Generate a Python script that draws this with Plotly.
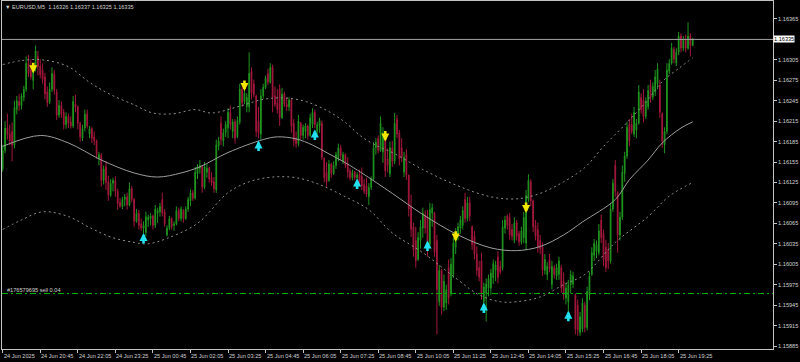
import plotly.graph_objects as go

# ---------------- data (EURUSD M5) ----------------
OPEN = [
1.16145,1.16172,1.16205,1.16196,1.16200,1.16180,1.16232,1.16244,1.16238,1.16250,
1.16262,1.16300,1.16290,1.16275,1.16292,1.16310,1.16296,1.16290,1.16280,1.16258,
1.16243,1.16262,1.16284,1.16258,1.16224,1.16238,1.16228,1.16210,1.16222,1.16214,
1.16208,1.16240,1.16236,1.16212,1.16190,1.16205,1.16226,1.16196,1.16204,1.16192,
1.16186,1.16160,1.16165,1.16128,1.16148,1.16126,1.16106,1.16124,1.16128,1.16112,
1.16096,1.16090,1.16100,1.16104,1.16092,1.16116,1.16100,1.16068,1.16080,1.16064,
1.16058,1.16052,1.16070,1.16072,1.16076,1.16062,1.16080,1.16082,1.16100,1.16082,
1.16048,1.16058,1.16072,1.16062,1.16064,1.16084,1.16072,1.16084,1.16072,1.16086,
1.16098,1.16110,1.16102,1.16138,1.16146,1.16148,1.16118,1.16140,1.16146,1.16132,
1.16126,1.16114,1.16178,1.16212,1.16186,1.16198,1.16205,1.16228,1.16200,1.16214,
1.16192,1.16214,1.16262,1.16244,1.16236,1.16236,1.16288,1.16270,1.16252,1.16215,
1.16196,1.16252,1.16264,1.16285,1.16272,1.16294,1.16252,1.16242,1.16262,1.16220,
1.16255,1.16240,1.16236,1.16246,1.16212,1.16190,1.16182,1.16212,1.16194,1.16200,
1.16208,1.16194,1.16210,1.16228,1.16200,1.16208,1.16212,1.16160,1.16140,1.16128,
1.16152,1.16138,1.16150,1.16160,1.16176,1.16156,1.16166,1.16152,1.16142,1.16132,
1.16140,1.16132,1.16136,1.16134,1.16122,1.16120,1.16104,1.16118,1.16130,1.16176,
1.16190,1.16172,1.16170,1.16190,1.16160,1.16138,1.16176,1.16156,1.16218,1.16198,
1.16176,1.16140,1.16166,1.16136,1.16090,1.16060,1.16040,1.16012,1.16040,1.16058,
1.16078,1.16075,1.16034,1.16080,1.16080,1.16040,1.15950,1.15996,1.15942,1.15948,
1.16000,1.15962,1.15990,1.16030,1.16050,1.16058,1.16062,1.16100,1.16072,1.16095,
1.16060,1.16046,1.16020,1.16000,1.16010,1.15950,1.15962,1.15970,1.15970,1.15985,
1.15996,1.16016,1.16002,1.16000,1.16058,1.16076,1.16074,1.16056,1.16040,1.16066,
1.16050,1.16038,1.16044,1.16036,1.16100,1.16126,1.16098,1.16062,1.16056,1.16040,
1.16030,1.15996,1.15990,1.16012,1.15975,1.16000,1.15988,1.15990,1.16000,1.15980,
1.15955,1.15950,1.15975,1.15976,1.15960,1.15945,1.15905,1.15910,1.15945,1.15912,
1.15960,1.15990,1.16018,1.16024,1.16022,1.16070,1.16050,1.16030,1.16026,1.16010,
1.16086,1.16150,1.16110,1.16048,1.16074,1.16138,1.16164,1.16210,1.16210,1.16196,
1.16202,1.16212,1.16250,1.16246,1.16222,1.16236,1.16268,1.16250,1.16258,1.16270,
1.16268,1.16226,1.16180,1.16200,1.16288,1.16300,1.16320,1.16300,1.16316,1.16340,
1.16322,1.16334,1.16322,1.16340,1.16326]

HIGH = [
1.16180,1.16215,1.16226,1.16210,1.16213,1.16245,1.16252,1.16255,1.16256,1.16267,
1.16310,1.16312,1.16306,1.16300,1.16326,1.16318,1.16306,1.16300,1.16286,1.16266,
1.16272,1.16294,1.16290,1.16262,1.16246,1.16244,1.16233,1.16228,1.16226,1.16222,
1.16252,1.16254,1.16238,1.16214,1.16210,1.16232,1.16232,1.16208,1.16206,1.16200,
1.16188,1.16170,1.16168,1.16150,1.16156,1.16135,1.16130,1.16132,1.16134,1.16116,
1.16102,1.16104,1.16108,1.16110,1.16125,1.16120,1.16102,1.16086,1.16085,1.16072,
1.16068,1.16082,1.16078,1.16080,1.16078,1.16092,1.16088,1.16095,1.16110,1.16086,
1.16062,1.16076,1.16074,1.16068,1.16090,1.16088,1.16090,1.16086,1.16090,1.16104,
1.16115,1.16114,1.16148,1.16152,1.16158,1.16150,1.16155,1.16152,1.16148,1.16140,
1.16133,1.16188,1.16192,1.16222,1.16204,1.16215,1.16234,1.16238,1.16218,1.16218,
1.16222,1.16270,1.16266,1.16262,1.16256,1.16316,1.16294,1.16276,1.16254,1.16236,
1.16262,1.16270,1.16282,1.16292,1.16300,1.16298,1.16266,1.16262,1.16269,1.16264,
1.16258,1.16250,1.16250,1.16248,1.16218,1.16200,1.16224,1.16214,1.16210,1.16212,
1.16210,1.16226,1.16234,1.16232,1.16214,1.16220,1.16216,1.16162,1.16155,1.16158,
1.16154,1.16156,1.16170,1.16182,1.16180,1.16170,1.16168,1.16162,1.16146,1.16144,
1.16142,1.16140,1.16144,1.16147,1.16130,1.16132,1.16124,1.16134,1.16184,1.16190,
1.16194,1.16222,1.16206,1.16196,1.16175,1.16185,1.16186,1.16227,1.16224,1.16202,
1.16190,1.16170,1.16174,1.16136,1.16107,1.16066,1.16060,1.16052,1.16070,1.16088,
1.16084,1.16085,1.16095,1.16094,1.16082,1.16048,1.16004,1.15998,1.15990,1.15975,
1.16012,1.16014,1.16044,1.16058,1.16066,1.16076,1.16090,1.16110,1.16104,1.16104,
1.16062,1.16054,1.16031,1.16010,1.16022,1.15978,1.15984,1.15990,1.15998,1.16012,
1.16010,1.16024,1.16010,1.16070,1.16076,1.16078,1.16080,1.16064,1.16074,1.16070,
1.16054,1.16060,1.16082,1.16114,1.16137,1.16130,1.16100,1.16070,1.16066,1.16048,
1.16037,1.16020,1.16008,1.16020,1.16010,1.16004,1.16006,1.16016,1.16004,1.15993,
1.15978,1.15982,1.15996,1.15994,1.15962,1.15953,1.15935,1.15955,1.15950,1.15972,
1.15994,1.16030,1.16042,1.16040,1.16064,1.16078,1.16056,1.16041,1.16036,1.16094,
1.16130,1.16158,1.16112,1.16082,1.16150,1.16170,1.16214,1.16218,1.16226,1.16236,
1.16218,1.16268,1.16256,1.16262,1.16250,1.16268,1.16276,1.16272,1.16290,1.16300,
1.16276,1.16228,1.16206,1.16300,1.16306,1.16330,1.16324,1.16322,1.16346,1.16344,
1.16340,1.16342,1.16360,1.16344,1.16337]

LOW = [
1.16141,1.16168,1.16188,1.16180,1.16156,1.16175,1.16225,1.16230,1.16232,1.16244,
1.16258,1.16280,1.16276,1.16262,1.16288,1.16282,1.16278,1.16270,1.16247,1.16236,
1.16240,1.16258,1.16254,1.16217,1.16220,1.16220,1.16203,1.16204,1.16205,1.16204,
1.16205,1.16228,1.16203,1.16185,1.16186,1.16200,1.16204,1.16190,1.16183,1.16180,
1.16160,1.16150,1.16119,1.16122,1.16114,1.16098,1.16104,1.16112,1.16104,1.16085,
1.16088,1.16086,1.16090,1.16085,1.16090,1.16096,1.16060,1.16066,1.16056,1.16054,
1.16050,1.16046,1.16060,1.16062,1.16056,1.16058,1.16066,1.16075,1.16075,1.16060,
1.16046,1.16055,1.16056,1.16054,1.16062,1.16068,1.16068,1.16066,1.16070,1.16082,
1.16090,1.16098,1.16100,1.16130,1.16138,1.16110,1.16115,1.16132,1.16125,1.16120,
1.16110,1.16110,1.16172,1.16180,1.16178,1.16192,1.16190,1.16203,1.16190,1.16182,
1.16190,1.16210,1.16236,1.16240,1.16228,1.16228,1.16247,1.16250,1.16192,1.16190,
1.16188,1.16248,1.16262,1.16268,1.16270,1.16228,1.16236,1.16226,1.16208,1.16218,
1.16236,1.16230,1.16230,1.16198,1.16178,1.16176,1.16178,1.16188,1.16188,1.16190,
1.16188,1.16192,1.16205,1.16205,1.16194,1.16198,1.16158,1.16125,1.16119,1.16126,
1.16132,1.16136,1.16145,1.16156,1.16158,1.16152,1.16146,1.16132,1.16128,1.16128,
1.16128,1.16127,1.16120,1.16114,1.16108,1.16104,1.16092,1.16114,1.16128,1.16166,
1.16168,1.16170,1.16154,1.16133,1.16140,1.16133,1.16148,1.16152,1.16190,1.16150,
1.16155,1.16133,1.16129,1.16075,1.16045,1.16016,1.16000,1.16010,1.16028,1.16044,
1.16050,1.16016,1.16028,1.16060,1.16016,1.15902,1.15944,1.15931,1.15936,1.15938,
1.15946,1.15958,1.15985,1.16020,1.16040,1.16050,1.16056,1.16066,1.16068,1.16068,
1.16026,1.16012,1.15988,1.15980,1.15953,1.15946,1.15921,1.15958,1.15960,1.15976,
1.15980,1.15977,1.15990,1.15996,1.16050,1.16056,1.16041,1.16040,1.16036,1.16040,
1.16032,1.16034,1.16036,1.16026,1.16096,1.16090,1.16052,1.16040,1.16022,1.16020,
1.15988,1.15990,1.15982,1.15993,1.15968,1.15984,1.15982,1.15982,1.15963,1.15953,
1.15946,1.15934,1.15962,1.15970,1.15902,1.15900,1.15900,1.15905,1.15905,1.15908,
1.15952,1.15988,1.16010,1.16014,1.16018,1.16036,1.16002,1.15994,1.15998,1.16006,
1.16082,1.16104,1.16022,1.16040,1.16070,1.16126,1.16160,1.16178,1.16196,1.16192,
1.16190,1.16210,1.16226,1.16213,1.16218,1.16232,1.16242,1.16246,1.16252,1.16262,
1.16220,1.16176,1.16168,1.16196,1.16284,1.16298,1.16300,1.16296,1.16312,1.16316,
1.16318,1.16316,1.16320,1.16310,1.16325]

CLOSE = [
1.16172,1.16205,1.16195,1.16186,1.16180,1.16235,1.16245,1.16238,1.16252,1.16262,
1.16300,1.16285,1.16280,1.16295,1.16318,1.16295,1.16283,1.16276,1.16255,1.16242,
1.16262,1.16285,1.16260,1.16224,1.16238,1.16226,1.16210,1.16222,1.16212,1.16208,
1.16244,1.16236,1.16212,1.16192,1.16204,1.16225,1.16208,1.16204,1.16190,1.16186,
1.16166,1.16166,1.16128,1.16145,1.16125,1.16106,1.16124,1.16128,1.16112,1.16094,
1.16090,1.16100,1.16104,1.16092,1.16116,1.16100,1.16068,1.16080,1.16062,1.16058,
1.16062,1.16075,1.16074,1.16076,1.16062,1.16086,1.16084,1.16090,1.16080,1.16064,
1.16058,1.16072,1.16060,1.16064,1.16084,1.16072,1.16086,1.16072,1.16086,1.16100,
1.16110,1.16102,1.16140,1.16148,1.16150,1.16118,1.16148,1.16146,1.16130,1.16124,
1.16116,1.16180,1.16186,1.16188,1.16198,1.16210,1.16228,1.16210,1.16214,1.16190,
1.16216,1.16262,1.16242,1.16256,1.16250,1.16285,1.16256,1.16254,1.16200,1.16198,
1.16252,1.16265,1.16278,1.16272,1.16294,1.16250,1.16240,1.16232,1.16220,1.16255,
1.16240,1.16236,1.16246,1.16208,1.16186,1.16182,1.16215,1.16194,1.16206,1.16208,
1.16194,1.16220,1.16228,1.16210,1.16210,1.16216,1.16162,1.16132,1.16126,1.16152,
1.16138,1.16150,1.16166,1.16176,1.16164,1.16166,1.16150,1.16140,1.16132,1.16140,
1.16132,1.16136,1.16126,1.16120,1.16112,1.16108,1.16118,1.16130,1.16176,1.16184,
1.16172,1.16212,1.16198,1.16142,1.16150,1.16176,1.16156,1.16212,1.16196,1.16160,
1.16162,1.16162,1.16136,1.16086,1.16056,1.16026,1.16010,1.16044,1.16060,1.16080,
1.16058,1.16030,1.16085,1.16088,1.16022,1.15968,1.15996,1.15942,1.15980,1.15968,
1.15955,1.16005,1.16036,1.16052,1.16060,1.16070,1.16084,1.16072,1.16095,1.16076,
1.16034,1.16020,1.15996,1.15986,1.15962,1.15972,1.15976,1.15984,1.15992,1.16006,
1.16004,1.15986,1.15994,1.16060,1.16070,1.16062,1.16048,1.16046,1.16066,1.16046,
1.16038,1.16054,1.16074,1.16106,1.16128,1.16098,1.16060,1.16046,1.16030,1.16028,
1.15996,1.16012,1.16002,1.15998,1.16002,1.15990,1.16000,1.16010,1.15970,1.15960,
1.15970,1.15975,1.15990,1.15988,1.15910,1.15908,1.15928,1.15948,1.15912,1.15965,
1.15988,1.16022,1.16036,1.16034,1.16054,1.16044,1.16012,1.16000,1.16010,1.16086,
1.16124,1.16112,1.16048,1.16074,1.16140,1.16164,1.16206,1.16186,1.16200,1.16228,
1.16212,1.16258,1.16232,1.16222,1.16244,1.16260,1.16250,1.16266,1.16280,1.16292,
1.16228,1.16186,1.16200,1.16290,1.16300,1.16322,1.16306,1.16316,1.16340,1.16322,
1.16334,1.16322,1.16340,1.16326,1.16335]

N_BARS = min(len(OPEN), len(HIGH), len(LOW), len(CLOSE))
BARS = list(range(N_BARS))

TIME_LABEL_BARS = [0, 16, 32, 48, 64, 80, 96, 112, 128, 144, 160, 176, 192, 208, 224, 240, 256, 272, 288]
TIME_LABELS = ["24 Jun 2025", "24 Jun 20:45", "24 Jun 22:05", "24 Jun 23:25", "25 Jun 00:45",
               "25 Jun 02:05", "25 Jun 03:25", "25 Jun 04:45", "25 Jun 06:05", "25 Jun 07:25",
               "25 Jun 08:45", "25 Jun 10:05", "25 Jun 11:25", "25 Jun 12:45", "25 Jun 14:05",
               "25 Jun 15:25", "25 Jun 16:45", "25 Jun 18:05", "25 Jun 19:25"]

PRICE_TICKS = [1.15885, 1.15915, 1.15945, 1.15975, 1.16005, 1.16035, 1.16065, 1.16095, 1.16125,
               1.16155, 1.16185, 1.16215, 1.16245, 1.16275, 1.16305, 1.16365]
PRICE_TICK_TEXT = ["1.15885", "1.15915", "1.15945", "1.15975", "1.16005", "1.16035", "1.16065",
                   "1.16095", "1.16125", "1.16155", "1.16185", "1.16215", "1.16245", "1.16275",
                   "1.16305", "1.16365"]

# channel indicator (middle, upper, lower), sampled points
MID_BARS = [0, 16, 28, 42, 56, 66, 76, 84, 96, 111, 117, 125, 132, 139, 146, 153, 166, 179, 194,
            208, 219, 229, 239, 247, 261, 267, 275, 281, 289, 294]
MID_VALS = [1.16178, 1.16194, 1.16183, 1.16158, 1.16139, 1.16133, 1.16139, 1.16148, 1.16169,
            1.16188, 1.16192, 1.16189, 1.16180, 1.16167, 1.16154, 1.16139, 1.16109, 1.16078,
            1.16048, 1.16029, 1.16025, 1.16031, 1.16048, 1.16067, 1.16100, 1.16129, 1.16158,
            1.16183, 1.16205, 1.16214]
UP_BARS = [0, 8, 17, 28, 37, 46, 56, 64, 73, 82, 89, 100, 111, 120, 129, 139, 146, 153, 160,
           166, 179, 194, 208, 219, 229, 239, 248, 256, 266, 275, 281, 289, 294]
UP_VALS = [1.16298, 1.16304, 1.16305, 1.16295, 1.16272, 1.16254, 1.16239, 1.16227, 1.16226,
           1.16232, 1.16227, 1.16236, 1.16247, 1.16249, 1.16244, 1.16229, 1.16213, 1.16192,
           1.16178, 1.16169, 1.16144, 1.16120, 1.16104, 1.16101, 1.16109, 1.16126, 1.16147,
           1.16178, 1.16213, 1.16247, 1.16273, 1.16295, 1.16308]
LO_BARS = [0, 8, 17, 28, 37, 46, 56, 62, 70, 83, 96, 105, 115, 125, 135, 146, 156, 166, 179,
           194, 203, 212, 219, 229, 239, 248, 261, 275, 284, 294]
LO_VALS = [1.16056, 1.16070, 1.16082, 1.16075, 1.16059, 1.16045, 1.16037, 1.16035, 1.16043,
           1.16065, 1.16110, 1.16126, 1.16133, 1.16132, 1.16122, 1.16104, 1.16085, 1.16051,
           1.16022, 1.15982, 1.15960, 1.15950, 1.15950, 1.15957, 1.15975, 1.15990, 1.16037,
           1.16075, 1.16105, 1.16125]

# signal arrows
SELL_BARS = [13, 103, 163, 193, 223]
SELL_PRICES = [1.16294, 1.16268, 1.16194, 1.16047, 1.16089]
BUY_BARS = [60, 109, 133, 151, 181, 205, 241]
BUY_PRICES = [1.16042, 1.16178, 1.16194, 1.16122, 1.16031, 1.15940, 1.15928]

CURRENT_PRICE = 1.16335
ORDER_PRICE = 1.15962
ORDER_LABEL = "#176579695 sell 0.04"
TITLE = "\u25BC EURUSD,M5  1.16326 1.16337 1.16325 1.16335"

# ---------------- style ----------------
W, H = 800, 362
ML, MR, MT, MB = 2, 27, 1, 13
Y_MIN, Y_MAX = 1.158806, 1.163914
X_MIN, X_MAX = -0.3, 328.2
PX = (Y_MAX - Y_MIN) / (H - MT - MB)  # price per pixel

GREEN = "#1f941f"
RED = "#a3183c"
AXIS = "#c4c4c4"
TXT = "#d2d2d2"
FONT = "Liberation Sans"
FS = 5.6

fig = go.Figure()

fig.add_trace(go.Candlestick(
    x=BARS, open=OPEN[:N_BARS], high=HIGH[:N_BARS], low=LOW[:N_BARS], close=CLOSE[:N_BARS],
    increasing=dict(line=dict(color=GREEN, width=1), fillcolor=GREEN),
    decreasing=dict(line=dict(color=RED, width=1), fillcolor=RED),
    whiskerwidth=0, showlegend=False, hoverinfo="skip"))

fig.add_trace(go.Scatter(x=MID_BARS, y=MID_VALS, mode="lines",
                         line=dict(color="#9c9c9c", width=1, shape="spline"),
                         showlegend=False, hoverinfo="skip"))
for bx, vals in ((UP_BARS, UP_VALS), (LO_BARS, LO_VALS)):
    fig.add_trace(go.Scatter(x=bx, y=vals, mode="lines",
                             line=dict(color="#8e8e8e", width=1, shape="spline", dash="2px,3px"),
                             showlegend=False, hoverinfo="skip"))

# pending sell order level (drawn as a trace so its colour is exact)
fig.add_trace(go.Scatter(x=[X_MIN, X_MAX], y=[ORDER_PRICE, ORDER_PRICE], mode="lines",
                         line=dict(color="#00b000", width=1, dash="6px,3px,2px,3px"),
                         showlegend=False, hoverinfo="skip"))

annotations = []
for b, p in zip(SELL_BARS, SELL_PRICES):
    annotations.append(dict(x=b, y=p - 6 * PX, xref="x", yref="y", text="", showarrow=True,
                            ax=0, ay=-12, arrowhead=2, arrowsize=0.62, arrowwidth=2.6,
                            arrowcolor="#f2e600", standoff=0, startstandoff=0))
for b, p in zip(BUY_BARS, BUY_PRICES):
    annotations.append(dict(x=b, y=p + 6 * PX, xref="x", yref="y", text="", showarrow=True,
                            ax=0, ay=12, arrowhead=2, arrowsize=0.62, arrowwidth=2.6,
                            arrowcolor="#22e0ee", standoff=0, startstandoff=0))

for b, t in zip(TIME_LABEL_BARS, TIME_LABELS):
    annotations.append(dict(x=b, y=0, xref="x", yref="paper", text=t, showarrow=False,
                            xanchor="left", yanchor="top", yshift=-2, xshift=-1,
                            font=dict(family=FONT, size=FS, color=TXT)))

annotations.append(dict(x=0, y=1, xref="paper", yref="paper", text=TITLE, showarrow=False,
                        xanchor="left", yanchor="top", xshift=1, yshift=-1,
                        font=dict(family=FONT, size=FS, color=TXT)))
annotations.append(dict(x=0, y=ORDER_PRICE, xref="paper", yref="y", text=ORDER_LABEL,
                        showarrow=False, xanchor="left", yanchor="bottom", xshift=3, yshift=-1,
                        font=dict(family=FONT, size=FS, color=TXT)))
annotations.append(dict(x=1, y=CURRENT_PRICE, xref="paper", yref="y", text="1.16335",
                        showarrow=False, xanchor="left", yanchor="middle", xshift=0,
                        bgcolor="#ffffff", borderpad=0,
                        font=dict(family=FONT, size=FS, color="#000000")))

shapes = [
    dict(type="line", xref="paper", x0=0, x1=1, yref="y", y0=CURRENT_PRICE, y1=CURRENT_PRICE,
         line=dict(color="#a4a4a4", width=1)),
]

fig.update_layout(
    width=W, height=H,
    margin=dict(l=ML, r=MR, t=MT, b=MB, autoexpand=False),
    paper_bgcolor="#000000", plot_bgcolor="#000000",
    font=dict(family=FONT, size=FS, color=TXT),
    boxgap=0.55,
    hovermode=False,
    annotations=annotations,
    shapes=shapes,
    xaxis=dict(range=[X_MIN, X_MAX], showgrid=False, zeroline=False, showline=True,
               linecolor=AXIS, linewidth=1, mirror=True, tickmode="array",
               tickvals=TIME_LABEL_BARS, showticklabels=False, ticks="outside", ticklen=3,
               tickcolor=AXIS, tickwidth=1, rangeslider=dict(visible=False), fixedrange=True),
    yaxis=dict(range=[Y_MIN, Y_MAX], side="right", showgrid=False, zeroline=False,
               showline=True, linecolor=AXIS, linewidth=1, mirror=True, tickmode="array",
               tickvals=PRICE_TICKS, ticktext=PRICE_TICK_TEXT, ticks="outside", ticklen=3,
               tickcolor=AXIS, tickwidth=1, tickfont=dict(family=FONT, size=FS, color=TXT),
               fixedrange=True),
)

fig.write_html("out.html", config={"displayModeBar": False})
